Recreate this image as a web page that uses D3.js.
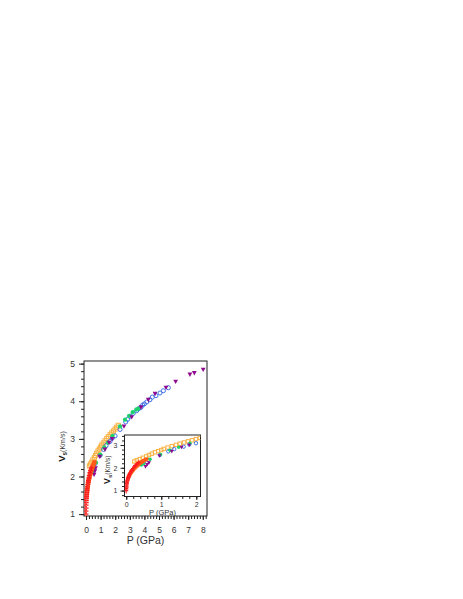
<!DOCTYPE html>
<html><head><meta charset="utf-8">
<script src="https://cdn.jsdelivr.net/npm/d3@7"></script>
<style>body{margin:0;background:#fff}svg{display:block}text{font-family:"Liberation Sans",Arial,sans-serif;fill:#333}</style>
</head><body><svg id="c" width="463" height="599"></svg>
<script>
// ---- data (P in GPa, Vs in km/s) ----
const redP  = [0.00,0.00,0.01,0.01,0.02,0.02,0.03,0.04,0.05,0.06,0.07,0.08,0.10,0.12,0.14,0.16,0.19,0.22,0.26,0.30,0.35];
const redV  = [1.00,1.08,1.16,1.24,1.31,1.37,1.42,1.47,1.52,1.57,1.62,1.67,1.73,1.79,1.85,1.90,1.96,2.03,2.10,2.16,2.23];
const redErr= [0.15,0.12,0.11,0.10,0.10,0.09,0.09,0.09,0.08,0.08,0.08,0.08,0.07,0.07,0.07,0.06,0.06,0.06,0.06,0.06,0.06];
const oredP = [0.04,0.06,0.08,0.10,0.12,0.14,0.16,0.18,0.20,0.22,0.25,0.28,0.31,0.34,0.37,0.40,0.43,0.46,0.50,0.54,0.58];
const oredV = [1.50,1.58,1.64,1.70,1.75,1.80,1.84,1.88,1.92,1.96,2.00,2.05,2.09,2.13,2.17,2.21,2.24,2.27,2.31,2.35,2.38];
const orgP  = [0.23,0.30,0.39,0.47,0.57,0.65,0.73,0.82,0.91,1.00,1.07,1.18,1.30,1.42,1.53,1.65,1.76,1.88,1.99,2.10,2.21];
const orgV  = [2.28,2.33,2.38,2.44,2.50,2.56,2.62,2.68,2.73,2.78,2.83,2.89,2.95,3.01,3.06,3.11,3.16,3.21,3.26,3.31,3.36];
const grnP  = [0.43,0.50,0.68,0.98,1.25,1.50,1.82,2.33,2.67,2.95,3.20,3.45,3.58];
const grnV  = [2.12,2.18,2.37,2.58,2.77,2.90,3.08,3.33,3.51,3.61,3.71,3.78,3.80];
const bluP  = [0.39,0.50,0.62,0.96,1.20,1.37,1.64,1.80,1.99,2.33,2.72,2.85,3.01,3.24,3.47,3.60,3.77,3.88,4.00,4.16,4.38,4.54,4.79,5.07,5.30,5.64];
const bluV  = [2.17,2.25,2.34,2.56,2.72,2.82,2.93,3.02,3.08,3.25,3.45,3.52,3.60,3.68,3.75,3.80,3.84,3.90,3.93,3.98,4.04,4.11,4.15,4.22,4.28,4.36];
const purP  = [0.55,0.60,0.65,0.95,1.30,1.58,1.80,2.60,3.13,3.77,4.27,4.73,5.48,6.14,7.12,7.42,8.03];
const purV  = [2.05,2.14,2.22,2.53,2.72,2.90,3.00,3.33,3.58,3.84,4.04,4.20,4.36,4.52,4.71,4.75,4.84];
const mainXTicks = [0,1,2,3,4,5,6,7,8];
const mainYTicks = [1,2,3,4,5];
const insetXTicks = [0,1,2];
const insetYTicks = [1,2,3];

const zip = (P,V,E) => P.map((p,i)=>({p, v:V[i], e:E?E[i]:0}));
const series = [
  {d: zip(orgP,orgV), type:"osquare", color:"#f9b142"},
  {d: zip(bluP,bluV), type:"ocircle", color:"#3f72e6"},
  {d: zip(grnP,grnV), type:"fcircle", color:"#1ed36e"},
  {d: zip(purP,purV), type:"tri", color:"#8e0a8e"},
  {d: zip(oredP,oredV), type:"fsquare", color:"#ff5a14"},
  {d: zip(redP,redV,redErr), type:"cross", color:"#ff1a1a"}
];

const svg = d3.select("#c");

function panel(g, box, xd, yd, xt, yt, fs, labFs, xlabY, ylabX, clipId, opts){
  const x = d3.scaleLinear().domain(xd).range([box.l, box.r]);
  const y = d3.scaleLinear().domain(yd).range([box.b, box.t]);
  g.append("rect").attr("x",box.l).attr("y",box.t).attr("width",box.r-box.l).attr("height",box.b-box.t)
    .attr("fill","#fff").attr("stroke","#222").attr("stroke-width",1);
  g.append("clipPath").attr("id",clipId).append("rect")
    .attr("x",box.l).attr("y",box.t).attr("width",box.r-box.l).attr("height",box.b-box.t);
  const xminor = d3.range(0, xd[1]+1e-9, 0.2).filter(v=>v>=xd[0]);
  const yminor = d3.range(Math.ceil(yd[0]*5)/5, yd[1]+1e-9, 0.2);
  const ax = d3.axisBottom(x).tickValues(xminor).tickSize(opts.minor).tickFormat("");
  g.append("g").attr("transform",`translate(0,${box.b})`).call(ax).call(s=>s.select(".domain").remove())
    .selectAll("line").attr("stroke","#222");
  const axM = d3.axisBottom(x).tickValues(xt).tickSize(opts.major).tickPadding(opts.pad).tickFormat(d3.format("d"));
  g.append("g").attr("transform",`translate(0,${box.b})`).call(axM).call(s=>s.select(".domain").remove())
    .call(s=>s.selectAll("text").style("font-size",fs+"px").attr("fill","#333"))
    .selectAll("line").attr("stroke","#222");
  const ay = d3.axisLeft(y).tickValues(yminor).tickSize(opts.minor).tickFormat("");
  g.append("g").attr("transform",`translate(${box.l},0)`).call(ay).call(s=>s.select(".domain").remove())
    .selectAll("line").attr("stroke","#222");
  const ayM = d3.axisLeft(y).tickValues(yt).tickSize(opts.majorY).tickPadding(opts.padY).tickFormat(d3.format("d"));
  g.append("g").attr("transform",`translate(${box.l},0)`).call(ayM).call(s=>s.select(".domain").remove())
    .call(s=>s.selectAll("text").style("font-size",fs+"px").attr("fill","#333"))
    .selectAll("line").attr("stroke","#222");
  const dg = g.append("g").attr("clip-path",`url(#${clipId})`);
  const m = opts.ms;
  series.forEach(s=>{
    s.d.forEach(pt=>{
      const cx = x(pt.p), cy = y(pt.v);
      if (s.type==="cross"){
        dg.append("line").attr("x1",cx).attr("x2",cx).attr("y1",y(pt.v-pt.e)).attr("y2",y(pt.v+pt.e))
          .attr("stroke","#ff8a8a").attr("stroke-width",1);
        dg.append("path").attr("d",`M${cx-m},${cy}H${cx+m}M${cx},${cy-m}V${cy+m}`)
          .attr("stroke",s.color).attr("stroke-width",1.4);
      } else if (s.type==="fsquare"){
        dg.append("rect").attr("x",cx-m*0.85).attr("y",cy-m*0.85).attr("width",m*1.7).attr("height",m*1.7).attr("fill",s.color);
      } else if (s.type==="osquare"){
        dg.append("rect").attr("x",cx-m*0.85).attr("y",cy-m*0.85).attr("width",m*1.7).attr("height",m*1.7)
          .attr("fill","none").attr("stroke",s.color).attr("stroke-width",1);
      } else if (s.type==="fcircle"){
        dg.append("circle").attr("cx",cx).attr("cy",cy).attr("r",m*0.9).attr("fill",s.color);
      } else if (s.type==="ocircle"){
        dg.append("circle").attr("cx",cx).attr("cy",cy).attr("r",m*0.85).attr("fill","none").attr("stroke",s.color).attr("stroke-width",1);
      } else if (s.type==="tri"){
        dg.append("path").attr("d",`M${cx-m},${cy-m*0.8}H${cx+m}L${cx},${cy+m}Z`).attr("fill",s.color);
      }
    });
  });
  g.append("text").attr("x",(box.l+box.r)/2+opts.xlabDx).attr("y",xlabY).attr("text-anchor","middle")
    .style("font-size",labFs+"px").text("P (GPa)");
  const yl = g.append("text").attr("transform",`translate(${ylabX},${(box.t+box.b)/2+opts.ylabDy}) rotate(-90)`)
    .attr("text-anchor","middle").style("font-size",opts.ylabFs+"px");
  yl.append("tspan").style("font-weight","bold").style("font-size",(opts.ylabFs*1.35)+"px").attr("fill","#111").text("V");
  yl.append("tspan").attr("dy",opts.ylabFs*0.35).style("font-size",(opts.ylabFs*0.9)+"px").style("font-weight","bold").text("s");
  yl.append("tspan").attr("dy",-opts.ylabFs*0.35).text("(Km/s)");
  return {x,y};
}

const gMain = svg.append("g");
panel(gMain, {l:84, r:207, t:361, b:516}, [-0.14, 8.29], [0.95, 5.07],
  mainXTicks, mainYTicks, 8.5, 10.5, 544, 65, "clipMain",
  {minor:3, major:4, majorY:5, pad:7, padY:4, ms:2.4, xlabDx:0, ylabDy:8, ylabFs:7});

const gIn = svg.append("g");
panel(gIn, {l:124.5, r:200.5, t:435, b:496.5}, [-0.05, 2.12], [0.74, 3.44],
  insetXTicks, insetYTicks, 7, 7.5, 514.5, 110, "clipIn",
  {minor:2.5, major:3.5, majorY:4, pad:2, padY:3, ms:2.0, xlabDx:0, ylabDy:4, ylabFs:6.5});
</script></body></html>
